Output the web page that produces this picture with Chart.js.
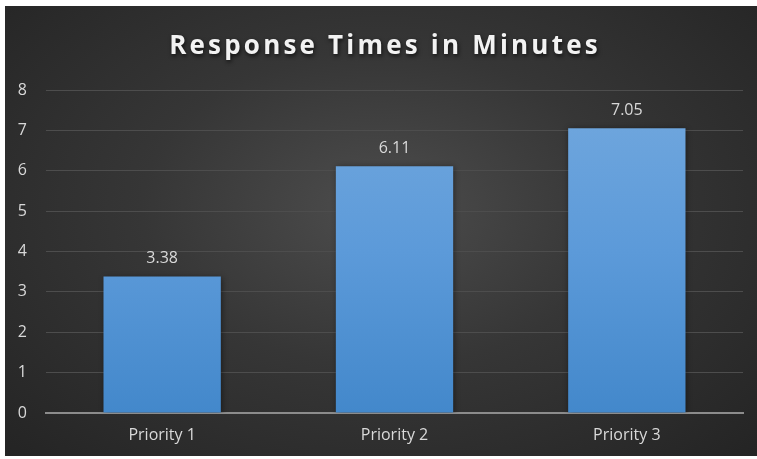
<!DOCTYPE html>
<html>
<head>
<meta charset="utf-8">
<script src="https://cdn.jsdelivr.net/npm/chart.js@4/dist/chart.umd.min.js"></script>
<style>
  html, body { margin: 0; padding: 0; background: #ffffff; }
  #box {
    position: absolute;
    left: 5px;
    top: 6px;
    width: 752px;
    height: 450px;
    background: radial-gradient(ellipse at 50% 45%, #4d4d4d 0%, #363636 45%, #242424 100%);
  }
</style>
</head>
<body>
<div id="box"><canvas id="response-chart" width="752" height="450"></canvas></div>
<script>
var categories = ["Priority 1", "Priority 2", "Priority 3"];
var minutes = [3.38, 6.11, 7.05];
var yTicks = [0, 1, 2, 3, 4, 5, 6, 7, 8];
var chartTitle = "Response Times in Minutes";

// title drawn by hand so we get the letter spacing and shadow
var titlePlugin = {
  id: "fancyTitle",
  afterDraw: (chart) => {
    let ctx = chart.ctx;
    ctx.save();
    ctx.font = "bold 26px 'Open Sans', sans-serif";
    ctx.letterSpacing = "3.2px";
    ctx.textAlign = "center";
    ctx.textBaseline = "middle";
    ctx.shadowColor = "rgba(0,0,0,0.7)";
    ctx.shadowBlur = 4;
    ctx.shadowOffsetX = 1;
    ctx.shadowOffsetY = 2;
    ctx.fillStyle = "#f2f2f2";
    ctx.fillText(chartTitle, chart.width / 2 + 4, 41);
    ctx.restore();
  },
};

// value labels above each bar
var valueLabels = {
  id: "valueLabels",
  afterDatasetsDraw: (chart) => {
    let ctx = chart.ctx;
    let meta = chart.getDatasetMeta(0);
    ctx.save();
    ctx.font = "16px 'Open Sans', sans-serif";
    ctx.fillStyle = "#d9d9d9";
    ctx.textAlign = "center";
    ctx.textBaseline = "bottom";
    meta.data.forEach((bar, i) => {
      ctx.fillText(minutes[i].toFixed(2), bar.x, bar.y - 10);
    });
    ctx.restore();
  },
};

var barShadow = {
  id: "barShadow",
  beforeDatasetDraw: (chart) => {
    let ctx = chart.ctx;
    ctx.save();
    ctx.shadowColor = "rgba(0,0,0,0.45)";
    ctx.shadowBlur = 6;
    ctx.shadowOffsetX = 1;
    ctx.shadowOffsetY = 1;
  },
  afterDatasetDraw: (chart) => {
    chart.ctx.restore();
  },
};

function barGradient(context) {
  let chart = context.chart;
  let area = chart.chartArea;
  if (!area) {
    return "#5b9bd5";
  }
  let g = chart.ctx.createLinearGradient(0, area.top, 0, area.bottom);
  g.addColorStop(0, "#72a8de");
  g.addColorStop(0.5, "#5c9ad9");
  g.addColorStop(1, "#4388cb");
  return g;
}

var responseChart = new Chart(document.getElementById("response-chart"), {
  type: "bar",
  data: {
    labels: categories,
    datasets: [
      {
        data: minutes,
        backgroundColor: barGradient,
        borderWidth: 0,
        categoryPercentage: 0.505,
        barPercentage: 1.0,
      },
    ],
  },
  options: {
    responsive: false,
    animation: false,
    layout: {
      padding: { top: 84, right: 14, left: 6, bottom: 0 },
    },
    plugins: {
      legend: false,
      title: { display: false },
      tooltip: { enabled: false },
    },
    scales: {
      x: {
        afterFit: (axis) => {
          axis.height = 43;
        },
        grid: { display: false, drawTicks: false },
        border: { color: "#8c8c8c", width: 2 },
        ticks: {
          color: "#d9d9d9",
          font: { size: 16, family: "'Open Sans', sans-serif" },
          padding: 13,
        },
      },
      y: {
        min: 0,
        max: yTicks[yTicks.length - 1],
        afterBuildTicks: (axis) => {
          axis.ticks = yTicks.map((v) => ({ value: v }));
        },
        afterFit: (axis) => {
          axis.width = 35;
        },
        grid: { color: "#4d4d4d", lineWidth: 1, drawTicks: false },
        border: { display: false },
        ticks: {
          color: "#d9d9d9",
          font: { size: 16, family: "'Open Sans', sans-serif" },
          padding: 19,
          align: "center",
        },
      },
    },
  },
  plugins: [barShadow, valueLabels, titlePlugin],
});
</script>
</body>
</html>
